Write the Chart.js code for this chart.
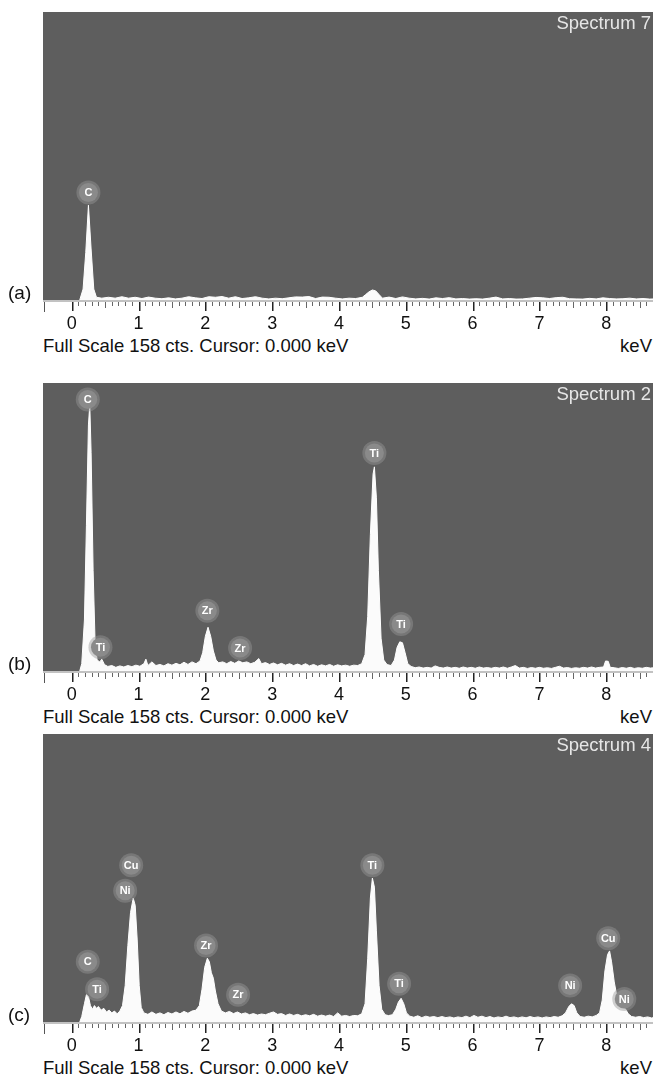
<!DOCTYPE html>
<html>
<head>
<meta charset="utf-8">
<script src="https://cdn.jsdelivr.net/npm/chart.js@4.4.0/dist/chart.umd.min.js"></script>
<style>
body { margin: 0; background: #fff; width: 653px; height: 1077px; position: relative; overflow: hidden; font-family: "Liberation Sans", Arial, sans-serif; color: #111; }
.panel { position: absolute; left: 0; width: 653px; height: 335px; }
.panel canvas { position: absolute; left: 0; top: 0; }
.tag { position: absolute; left: 8px; top: 282px; font-size: 19px; line-height: 22px; }
.scale { position: absolute; left: 43px; top: 335px; font-size: 18.5px; line-height: 22px; white-space: nowrap; }
.unit { position: absolute; right: 1px; top: 335px; font-size: 18.5px; line-height: 22px; }
.spec { position: absolute; right: 2px; top: 12px; font-size: 18.5px; line-height: 22px; color: #e6e6e6; }
</style>
</head>
<body>

<div class="panel" style="top:0px"><canvas id="specA" width="653" height="335"></canvas>
  <div class="spec">Spectrum 7</div><div class="tag">(a)</div>
  <div class="scale">Full Scale 158 cts. Cursor: 0.000 keV</div><div class="unit">keV</div></div>
<div class="panel" style="top:371px"><canvas id="specB" width="653" height="335"></canvas>
  <div class="spec">Spectrum 2</div><div class="tag">(b)</div>
  <div class="scale">Full Scale 158 cts. Cursor: 0.000 keV</div><div class="unit">keV</div></div>
<div class="panel" style="top:722px"><canvas id="specC" width="653" height="335"></canvas>
  <div class="spec">Spectrum 4</div><div class="tag">(c)</div>
  <div class="scale">Full Scale 158 cts. Cursor: 0.000 keV</div><div class="unit">keV</div></div>

<script>
// EDS spectra, counts (full scale 158 cts)
const FULL_SCALE = 158;
const X_MIN = -0.43;
const X_MAX = 8.70;
const tickValues = [0, 1, 2, 3, 4, 5, 6, 7, 8];

// (a) Spectrum 7
const keVA = [0.12, 0.17, 0.21, 0.25, 0.29, 0.33, 0.37, 0.45, 0.55, 0.65, 0.75, 0.85, 0.95, 1.05, 1.15, 1.25, 1.35, 1.45,
  1.55, 1.65, 1.75, 1.85, 1.95, 2.05, 2.15, 2.25, 2.35, 2.45, 2.55, 2.65, 2.75, 2.85, 2.95, 3.05, 3.15, 3.25, 3.35, 3.45,
  3.55, 3.65, 3.75, 3.85, 3.95, 4.05, 4.15, 4.25, 4.35, 4.40, 4.45, 4.50, 4.55, 4.60, 4.65, 4.75, 4.85, 4.95, 5.05, 5.15,
  5.25, 5.35, 5.45, 5.55, 5.65, 5.75, 5.85, 5.95, 6.05, 6.15, 6.25, 6.35, 6.45, 6.55, 6.65, 6.75, 6.85, 6.95, 7.05, 7.15,
  7.25, 7.35, 7.45, 7.55, 7.65, 7.75, 7.85, 7.95, 8.05, 8.15, 8.25, 8.35, 8.45, 8.55, 8.65, 8.72];
const ctsA = [0, 6, 26, 52, 28, 6, 1.5, 1, 1.5, 1, 1.8, 1, 1.5, 0.8, 1.6, 1, 0.7, 1.2,
  0.6, 1, 1.8, 1.2, 0.8, 1.8, 1.5, 1.9, 1, 1.8, 0.8, 1.2, 1.8, 1, 0.6, 1, 0.7, 1.2, 1.7, 1.6,
  1.9, 0.8, 1.6, 1.5, 1, 0.6, 1, 0.8, 1.5, 3, 4.5, 5.5, 5, 3, 1, 1.6, 0.8, 1.7, 1, 0.6,
  0.9, 0.5, 1.2, 0.8, 1.3, 0.6, 0.8, 0.5, 0.7, 0.5, 1, 1.6, 0.6, 0.8, 0.5, 0.6, 1, 1.4, 1.2, 0.8,
  1.3, 1.5, 0.7, 0.6, 0.5, 0.9, 0.6, 1.2, 0.8, 0.6, 0.7, 1, 0.6, 0.8, 0.5, 0.6];
const peakNamesA = ['C'];
const peakKeVA = [0.25];
const peakCtsA = [59];

// (b) Spectrum 2
const keVB = [0.12, 0.15, 0.19, 0.22, 0.25, 0.27, 0.29, 0.32, 0.35, 0.38, 0.42, 0.45, 0.49, 0.54, 0.60, 0.66, 0.72, 0.78,
  0.84, 0.90, 0.96, 1.02, 1.08, 1.11, 1.14, 1.20, 1.26, 1.32, 1.38, 1.44, 1.50, 1.56, 1.62, 1.68, 1.74, 1.80, 1.86, 1.92,
  1.96, 2.00, 2.04, 2.08, 2.12, 2.16, 2.20, 2.26, 2.32, 2.38, 2.44, 2.50, 2.56, 2.62, 2.68, 2.74, 2.80, 2.84, 2.90, 2.96,
  3.02, 3.08, 3.14, 3.20, 3.26, 3.32, 3.38, 3.44, 3.50, 3.56, 3.62, 3.68, 3.74, 3.80, 3.86, 3.92, 3.98, 4.04, 4.10, 4.16,
  4.22, 4.28, 4.34, 4.39, 4.43, 4.47, 4.51, 4.53, 4.56, 4.59, 4.63, 4.67, 4.72, 4.78, 4.83, 4.87, 4.91, 4.95, 4.99, 5.03,
  5.08, 5.14, 5.20, 5.26, 5.32, 5.38, 5.44, 5.50, 5.56, 5.62, 5.68, 5.74, 5.80, 5.86, 5.92, 5.98, 6.04, 6.10, 6.16, 6.22,
  6.28, 6.34, 6.40, 6.46, 6.52, 6.58, 6.64, 6.70, 6.76, 6.82, 6.88, 6.94, 7.00, 7.06, 7.12, 7.18, 7.24, 7.30, 7.36, 7.42,
  7.48, 7.54, 7.60, 7.66, 7.72, 7.78, 7.84, 7.90, 7.96, 7.99, 8.03, 8.06, 8.12, 8.18, 8.24, 8.30, 8.36, 8.42, 8.48, 8.54,
  8.60, 8.66, 8.72];
const ctsB = [0, 4, 28, 80, 135, 146, 120, 55, 15, 6, 5, 6.5, 3.5, 2.5, 3, 2, 2.8, 2.2,
  3, 2.4, 3.2, 2.6, 4, 6.5, 3, 5, 3, 3.6, 2.8, 4, 3.2, 4.2, 3.4, 4.8, 3.6, 5, 4, 5.5,
  10, 19, 24, 19, 11, 6, 4.5, 5, 4, 5.2, 4.2, 5.5, 4.5, 5, 4, 4.8, 6.8, 4, 4.6, 3.6,
  4.4, 3.4, 4.2, 3.2, 4, 3, 3.8, 3, 4, 2.8, 3.6, 2.6, 3.4, 2.8, 3.6, 2.6, 3.4, 2.8, 3.2, 2.6,
  3.2, 3, 4, 9, 30, 75, 108, 112, 95, 55, 18, 6, 3.5, 3, 6, 13, 16, 15.5, 10, 4,
  2.5, 1.8, 2.2, 1.6, 2, 1.6, 2.8, 2, 1.6, 2.2, 1.6, 2, 1.5, 2.2, 1.6, 2, 1.5, 2.2, 1.6, 1.9,
  1.5, 2, 1.6, 2.2, 1.5, 2.2, 3, 1.6, 2, 1.4, 1.9, 1.5, 2, 1.5, 1.8, 1.4, 2, 2.6, 1.6, 1.9,
  1.4, 1.8, 1.5, 2, 1.6, 2.2, 1.6, 2, 2.2, 5.5, 5.3, 2, 1.8, 1.4, 1.9, 1.5, 2, 1.4, 1.8, 1.5,
  2, 1.6, 1.8];
const peakNamesB = ['C', 'Ti', 'Zr', 'Zr', 'Ti', 'Ti'];
const peakKeVB = [0.24, 0.43, 2.03, 2.52, 4.53, 4.93];
const peakCtsB = [149, 13, 33, 12.6, 119.6, 25.8];

// (c) Spectrum 4
const keVC = [0.12, 0.15, 0.19, 0.22, 0.25, 0.28, 0.31, 0.34, 0.37, 0.40, 0.44, 0.48, 0.52, 0.56, 0.60, 0.64, 0.68, 0.72,
  0.76, 0.80, 0.84, 0.88, 0.92, 0.95, 0.98, 1.01, 1.04, 1.08, 1.14, 1.20, 1.26, 1.32, 1.38, 1.44, 1.50, 1.56, 1.62, 1.68,
  1.74, 1.80, 1.86, 1.91, 1.95, 1.99, 2.03, 2.06, 2.09, 2.12, 2.15, 2.19, 2.24, 2.30, 2.36, 2.42, 2.48, 2.54, 2.60, 2.66,
  2.72, 2.78, 2.84, 2.90, 2.96, 3.02, 3.08, 3.14, 3.20, 3.26, 3.32, 3.38, 3.44, 3.50, 3.56, 3.62, 3.68, 3.74, 3.80, 3.86,
  3.92, 3.98, 4.04, 4.10, 4.16, 4.22, 4.28, 4.34, 4.39, 4.43, 4.47, 4.50, 4.53, 4.56, 4.60, 4.64, 4.69, 4.74, 4.80, 4.85,
  4.89, 4.93, 4.97, 5.01, 5.06, 5.12, 5.18, 5.24, 5.30, 5.36, 5.42, 5.48, 5.54, 5.60, 5.66, 5.72, 5.78, 5.84, 5.90, 5.96,
  6.02, 6.08, 6.14, 6.20, 6.26, 6.32, 6.38, 6.44, 6.50, 6.56, 6.62, 6.68, 6.74, 6.80, 6.86, 6.92, 6.98, 7.04, 7.10, 7.16,
  7.22, 7.28, 7.34, 7.39, 7.44, 7.48, 7.52, 7.56, 7.61, 7.67, 7.73, 7.79, 7.85, 7.90, 7.94, 7.98, 8.02, 8.05, 8.08, 8.12,
  8.16, 8.20, 8.25, 8.29, 8.33, 8.38, 8.44, 8.50, 8.56, 8.62, 8.68, 8.72];
const ctsC = [0, 3, 10, 15, 14, 9, 7, 9, 7.5, 8.5, 6.5, 7.5, 5.5, 6.5, 5, 6, 4.5, 6,
  9, 20, 42, 60, 68, 64, 45, 20, 8, 5, 4.2, 5.5, 4.2, 5, 4, 5.2, 4.4, 5.5, 4.5, 5.8,
  4.8, 6, 6.5, 9, 18, 30, 35, 33, 27, 24, 17, 10, 6, 5, 5.8, 4.6, 5.5, 4.4, 5, 4,
  4.6, 3.8, 4.4, 4, 4.8, 5.5, 4.2, 4.6, 3.6, 4.4, 3.6, 4.2, 3.4, 4, 3.4, 4.2, 3.2, 3.8, 3.2, 3.8,
  3, 5, 3.2, 3.6, 3, 3.6, 3.4, 4.5, 10, 35, 68, 79, 74, 50, 20, 7, 4, 3.5, 4, 7,
  11, 13, 10, 5, 3.2, 2.6, 3.4, 2.4, 3.2, 2.6, 3, 2.4, 3, 2.4, 2.8, 2.2, 2.8, 2.4, 3.2, 2.4,
  3.6, 2.6, 3.2, 2.4, 3, 2.2, 2.8, 2.4, 3.2, 2.4, 2.8, 2.2, 2.8, 2.3, 3, 2.4, 2.8, 2.2, 2.8, 2.4,
  3, 2.6, 3.4, 5, 8.5, 10, 9, 5, 3, 2.6, 3.2, 2.8, 3.6, 5, 12, 28, 37, 39, 33, 22,
  14, 10, 8.5, 7, 4.5, 3, 2.6, 3, 2.4, 2.8, 2.2, 2.6];
const peakNamesC = ['C', 'Ti', 'Ni', 'Cu', 'Zr', 'Zr', 'Ti', 'Ti', 'Ni', 'Cu', 'Ni'];
const peakKeVC = [0.24, 0.38, 0.80, 0.89, 2.01, 2.49, 4.50, 4.90, 7.46, 8.03, 8.27];
const peakCtsC = [33, 18, 72, 86, 42, 15, 86, 21, 20, 46, 12.6];

const FONT = '"Liberation Sans", Arial, sans-serif';

// plot background, axis ticks and element markers
const edsPlugin = {
    id: 'eds',
    beforeDraw(chart) {
        const { ctx, chartArea: a } = chart;
        ctx.save();
        ctx.fillStyle = '#5e5e5e';
        ctx.fillRect(a.left, a.top, a.right - a.left, a.bottom - a.top);
        ctx.restore();
    },
    afterDatasetsDraw(chart, args, opts) {
        const { ctx } = chart;
        const xs = chart.scales.x, ys = chart.scales.y;
        ctx.save();
        opts.names.forEach((name, i) => {
            const px = xs.getPixelForValue(opts.keV[i]);
            const py = ys.getPixelForValue(opts.cts[i]);
            ctx.fillStyle = 'rgba(150,150,150,0.45)';
            ctx.beginPath(); ctx.arc(px, py, 12, 0, Math.PI * 2); ctx.fill();
            ctx.fillStyle = '#8a8a8a';
            ctx.beginPath(); ctx.arc(px, py, 9.5, 0, Math.PI * 2); ctx.fill();
            ctx.fillStyle = '#ffffff';
            ctx.font = 'bold 11px ' + FONT;
            ctx.textAlign = 'center';
            ctx.textBaseline = 'middle';
            ctx.fillText(name, px, py + 0.5);
        });
        ctx.restore();
    },
    afterDraw(chart) {
        const { ctx, chartArea: a } = chart;
        const xs = chart.scales.x;
        const b = a.bottom;
        ctx.save();
        ctx.fillStyle = '#c2c2c2';
        ctx.fillRect(a.left, b, a.right - a.left, 2);
        ctx.fillStyle = '#555';
        ctx.fillRect(a.left + 1, b + 2, 1, 10);
        for (let k = 0; k <= 87; k++) {
            const px = Math.round(xs.getPixelForValue(k / 10));
            const major = k % 10 === 0;
            const len = major ? 9 : (k % 5 === 0 ? 6 : 4);
            ctx.fillStyle = major ? '#222' : '#666';
            ctx.fillRect(px, b + 2, major ? 1.5 : 1, len);
        }
        ctx.restore();
    }
};

function makePanel(id, keV, cts, names, pkKeV, pkCts) {
    const points = keV.map((x, i) => ({ x, y: cts[i] }));
    const ctx = document.getElementById(id).getContext('2d');
    return new Chart(ctx, {
        type: 'line',
        data: {
            datasets: [{
                data: points,
                borderColor: '#ffffff',
                borderWidth: 1,
                backgroundColor: '#fbfbfb',
                fill: 'origin',
                pointRadius: 0,
                tension: 0
            }]
        },
        options: {
            responsive: false,
            animation: false,
            devicePixelRatio: 1,
            layout: { padding: { top: 12, left: 43, right: 0, bottom: 0 } },
            plugins: {
                legend: { display: false },
                tooltip: { enabled: false },
                eds: { names, keV: pkKeV, cts: pkCts }
            },
            scales: {
                x: {
                    type: 'linear',
                    min: X_MIN,
                    max: X_MAX,
                    afterFit: s => { s.height = 35; },
                    afterBuildTicks: s => { s.ticks = tickValues.map(v => ({ value: v })); },
                    grid: { display: false, drawTicks: false },
                    border: { display: false },
                    ticks: {
                        padding: 13,
                        color: '#111',
                        font: { family: FONT, size: 18 },
                        maxRotation: 0,
                        autoSkip: false,
                        callback: v => String(v)
                    }
                },
                y: { display: false, min: 0, max: FULL_SCALE }
            }
        },
        plugins: [edsPlugin]
    });
}

makePanel('specA', keVA, ctsA, peakNamesA, peakKeVA, peakCtsA);
makePanel('specB', keVB, ctsB, peakNamesB, peakKeVB, peakCtsB);
makePanel('specC', keVC, ctsC, peakNamesC, peakKeVC, peakCtsC);
</script>
</body>
</html>
